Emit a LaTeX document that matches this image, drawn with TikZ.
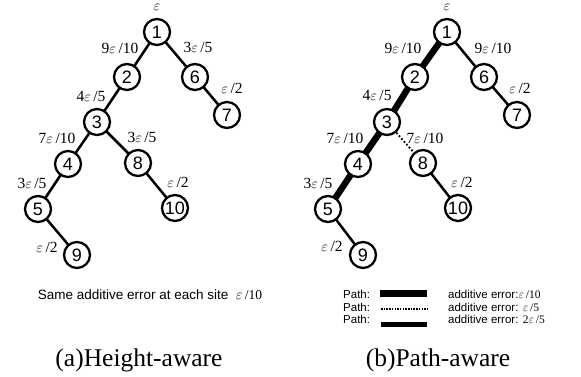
\documentclass[tikz,border=0pt]{standalone}
\usepackage{fontspec}
\setmainfont{Liberation Serif}
\setsansfont{Liberation Sans}
\usetikzlibrary{backgrounds}
\newcommand\ep{$\varepsilon$}
\begin{document}
\begin{tikzpicture}[x=1pt,y=-1pt,
  site/.style={circle, draw, fill=white, line width=2.3pt, minimum size=26pt, inner sep=0pt,
    font=\sffamily\fontsize{18}{18}\selectfont},
  edge/.style={line width=2.5pt},
  pathedge/.style={line width=6.5pt},
  dotedge/.style={line width=1.8pt, dotted},
  lbl/.style={inner sep=0pt, font=\fontsize{15.5}{15.5}\selectfont},
  note/.style={inner sep=0pt, font=\sffamily\fontsize{11.5}{11.5}\selectfont},
  caption/.style={inner sep=0pt, font=\fontsize{25.5}{25.5}\selectfont}]
\useasboundingbox (0,0) rectangle (581,377);

% ---------- (a) height-aware tree ----------
\node[site] (a1) at (157,32) {1};
\node[site] (a2) at (127,77) {2};
\node[site] (a6) at (195,77) {6};
\node[site] (a7) at (227,115) {7};
\node[site] (a3) at (97,122) {3};
\node[site] (a4) at (68,164) {4};
\node[site] (a8) at (138,163) {8};
\node[site] (a5) at (38,209) {5};
\node[site] (a10) at (175,208) {10};
\node[site] (a9) at (77,255) {9};
\begin{scope}[on background layer]
  \draw[edge] (a1.center) -- (a2.center);
  \draw[edge] (a1.center) -- (a6.center);
  \draw[edge] (a6.center) -- (a7.center);
  \draw[edge] (a2.center) -- (a3.center);
  \draw[edge] (a3.center) -- (a4.center);
  \draw[edge] (a3.center) -- (a8.center);
  \draw[edge] (a4.center) -- (a5.center);
  \draw[edge] (a8.center) -- (a10.center);
  \draw[edge] (a5.center) -- (a9.center);
\end{scope}
\node[lbl] (ta0) at (157,7) {\ep};
\node[lbl] (ta12) at (120,48) {9\ep\,/10};
\node[lbl] (ta16) at (198,47) {3\ep\,/5};
\node[lbl] (ta67) at (232,88) {\ep\,/2};
\node[lbl] (ta23) at (91,96) {4\ep\,/5};
\node[lbl] (ta34) at (57,138) {7\ep\,/10};
\node[lbl] (ta38) at (142,137) {3\ep\,/5};
\node[lbl] (ta45) at (32,183) {3\ep\,/5};
\node[lbl] (ta810) at (178,182) {\ep\,/2};
\node[lbl] (ta59) at (47,247) {\ep\,/2};
\node[note, font=\sffamily\fontsize{13.5}{13.5}\selectfont] (same) at (150,295)
  {Same additive error at each site \ {\rmfamily\ep\,/10}};
\node[caption] (capa) at (139,360) {(a)Height-aware};

% ---------- (b) path-aware tree ----------
\node[site] (b1) at (447,32) {1};
\node[site] (b2) at (415,77) {2};
\node[site] (b6) at (484,77) {6};
\node[site] (b7) at (517,115) {7};
\node[site] (b3) at (387,122) {3};
\node[site] (b4) at (358,164) {4};
\node[site] (b8) at (423,163) {8};
\node[site] (b5) at (328,209) {5};
\node[site] (b10) at (458,208) {10};
\node[site] (b9) at (363,255) {9};
\begin{scope}[on background layer]
  \draw[pathedge] (b1.center) -- (b2.center);
  \draw[pathedge] (b2.center) -- (b3.center);
  \draw[pathedge] (b3.center) -- (b4.center);
  \draw[pathedge] (b4.center) -- (b5.center);
  \draw[edge] (b1.center) -- (b6.center);
  \draw[edge] (b6.center) -- (b7.center);
  \draw[edge] (b8.center) -- (b10.center);
  \draw[edge] (b5.center) -- (b9.center);
\end{scope}
\draw[dotedge] (b3) -- (b8);
\node[lbl] (tb0) at (447,7) {\ep};
\node[lbl] (tb12) at (403,48) {9\ep\,/10};
\node[lbl] (tb16) at (493,48) {9\ep\,/10};
\node[lbl] (tb67) at (520,88) {\ep\,/2};
\node[lbl] (tb23) at (377,95) {4\ep\,/5};
\node[lbl] (tb34) at (345,138) {7\ep\,/10};
\node[lbl] (tb38) at (425,138) {7\ep\,/10};
\node[lbl] (tb45) at (318,183) {3\ep\,/5};
\node[lbl] (tb810) at (462,182) {\ep\,/2};
\node[lbl] (tb59) at (332,246) {\ep\,/2};

% legend
\node[note, anchor=west] (p1) at (343,294) {Path:};
\node[note, anchor=west] (p2) at (343,307) {Path:};
\node[note, anchor=west] (p3) at (343,319) {Path:};
\coordinate (s1) at (380,293); \coordinate (e1) at (427,293);
\coordinate (s2) at (381,309); \coordinate (e2) at (427,309);
\coordinate (s3) at (381,324); \coordinate (e3) at (427,324);
\draw[line width=7pt] (s1) -- (e1);
\draw[line width=1.8pt, dash pattern=on 1.5pt off 1.2pt] (s2) -- (e2);
\draw[line width=5pt] (s3) -- (e3);
\node[note, anchor=west] (r1) at (448,294) {additive error:{\rmfamily\ep\,/10}};
\node[note, anchor=west] (r2) at (448,307) {additive error: {\rmfamily\ep\,/5}};
\node[note, anchor=west] (r3) at (448,319) {additive error: {\rmfamily 2\ep\,/5}};
\node[caption] (capb) at (438,360) {(b)Path-aware};
\end{tikzpicture}
\end{document}
